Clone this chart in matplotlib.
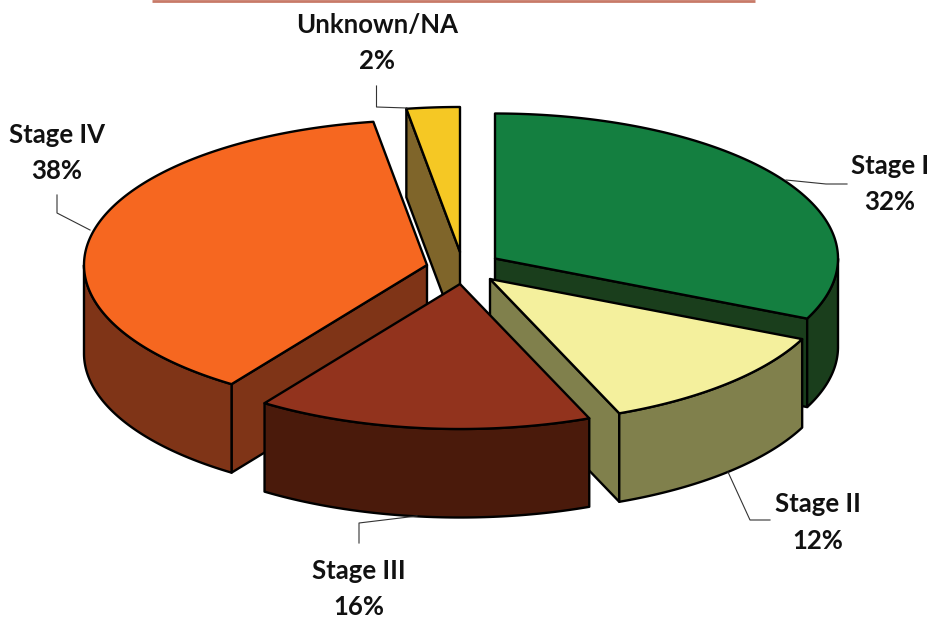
import numpy as np
import matplotlib
matplotlib.use("Agg")
import matplotlib.pyplot as plt
from matplotlib.patches import Polygon

etapas = ["Stage I", "Stage II", "Stage III", "Stage IV", "Unknown/NA"]
valores = [31.8, 12.05, 15.8, 37.85, 2.5]
porcentajes = ["32%", "12%", "16%", "38%", "2%"]

colores_top = ["#147F40", "#F4F09D", "#92331D", "#F66720", "#F5C824"]
colores_lado = ["#1A3E1C", "#80804C", "#4A1A0B", "#7F3417", "#7F652A"]

# centro de cada rebanada en pixeles (explosion)
centros = [(495, 258.5), (490, 279), (460, 284), (427, 265), (460, 252)]
rx, ry, prof = 343, 145, 88.5

# orden de dibujo, de atras hacia adelante
orden = [0, 4, 3, 1, 2]

# posicion de los textos y lineas guia
pos_texto = [(890, 166, 202), (818, 504, 541), (359, 571, 607), (57, 135, 171), (377, 25, 61)]
guias = [
    [(786, 180), (826, 184), (847, 184)],
    [(728, 472), (750, 520), (770, 520)],
    [(359, 543), (359, 523), (417, 516)],
    [(57, 195), (57, 213), (90, 230)],
    [(376.5, 86), (376.5, 107), (407, 108)],
]


def borde(c, t):
    return c[0] + rx * np.sin(t), c[1] - ry * np.cos(t)


fig = plt.figure(figsize=(9.31, 6.18), dpi=100)
ax = fig.add_axes([0, 0, 1, 1])
ax.set_xlim(0, 931)
ax.set_ylim(618, 0)
ax.axis("off")

ax.plot([152, 755], [0.5, 0.5], color="#C87A68", lw=2, solid_capstyle="butt")

fracciones = np.cumsum([0] + valores) / sum(valores) * 2 * np.pi
kw = dict(edgecolor="black", lw=1.7, joinstyle="round")

for i in orden:
    c = centros[i]
    t0, t1 = fracciones[i], fracciones[i + 1]
    # caras radiales, solo las que miran al frente
    visibles = []
    if np.sin(t0) < -1e-6:
        visibles.append(t0)
    if np.sin(t1) > 1e-6:
        visibles.append(t1)
    for t in visibles:
        x, y = borde(c, t)
        cara = [c, (x, y), (x, y + prof), (c[0], c[1] + prof)]
        ax.add_patch(Polygon(cara, closed=True, facecolor=colores_lado[i], **kw))
    # pared exterior, solo la mitad del frente
    a, b = max(t0, np.pi / 2), min(t1, 3 * np.pi / 2)
    if b > a:
        ts = np.linspace(a, b, 80)
        x, y = borde(c, ts)
        pared = np.r_[np.c_[x, y], np.c_[x, y + prof][::-1]]
        ax.add_patch(Polygon(pared, closed=True, facecolor=colores_lado[i], **kw))
    # tapa
    ts = np.linspace(t0, t1, 160)
    x, y = borde(c, ts)
    tapa = np.r_[[c], np.c_[x, y]]
    ax.add_patch(Polygon(tapa, closed=True, facecolor=colores_top[i], **kw))

for guia in guias:
    xs, ys = zip(*guia)
    ax.plot(xs, ys, color="#333333", lw=0.8)

for nombre, pct, (x, y1, y2) in zip(etapas, porcentajes, pos_texto):
    ax.text(x, y1, nombre, ha="center", va="center", family="Lato", weight="bold", fontsize=18.5, color="#111111")
    ax.text(x, y2, pct, ha="center", va="center", family="Lato", weight="bold", fontsize=18.5, color="#111111")

fig.savefig("out.png", dpi=100)
